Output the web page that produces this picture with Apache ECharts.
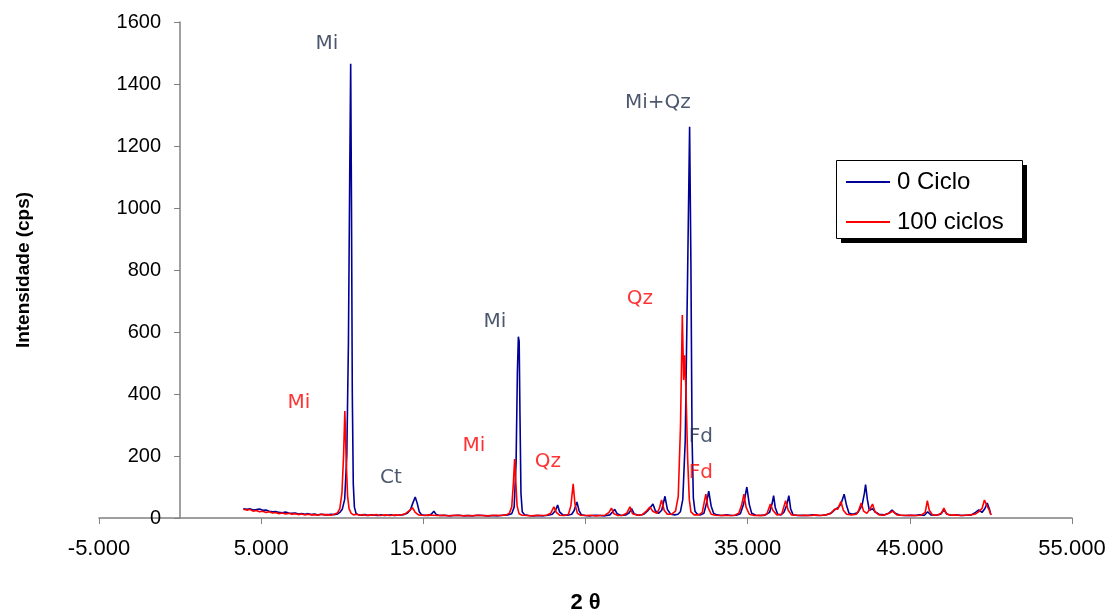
<!DOCTYPE html>
<html>
<head>
<meta charset="utf-8">
<title>Difratograma</title>
<script src="https://cdn.jsdelivr.net/npm/echarts@6/dist/echarts.min.js"></script>
<style>
  html, body { margin: 0; padding: 0; background: #ffffff; }
  #chart { width: 1113px; height: 614px; }
</style>
</head>
<body>
<div id="chart"></div>
<script>
// Difratograma de raios X: amostra inicial (0 ciclo) e após 100 ciclos
// Pares [2θ, intensidade (cps)]

const seriesNames = ['0 Ciclo', '100 ciclos'];

const ciclo0 = [
  [3.9,30],[4.0,33],[4.15,28],[4.3,30],[4.5,26],[4.7,27],[4.9,29],[5.1,25],[5.3,26],[5.5,22],
  [5.7,20],[5.9,21],[6.1,18],[6.3,17],[6.5,19],[6.7,16],[6.9,15],[7.1,16],[7.3,13],[7.5,14],
  [7.7,12],[7.9,14],[8.1,11],[8.3,13],[8.5,10],[8.7,12],[8.9,11],[9.1,10],[9.3,12],[9.5,11],
  [9.7,13],[9.85,18],[10.0,28],[10.15,60],[10.28,200],[10.38,560],[10.46,1100],[10.52,1465],
  [10.57,1000],[10.62,400],[10.68,110],[10.75,35],[10.85,15],[11.0,10],[11.2,9],[11.4,11],
  [11.6,8],[11.8,10],[12.0,9],[12.2,8],[12.4,10],[12.6,8],[12.8,9],[13.0,10],[13.2,8],[13.4,9],
  [13.6,10],[13.8,11],[14.0,15],[14.2,26],[14.35,48],[14.5,68],[14.62,48],[14.75,20],[14.9,10],
  [15.1,9],[15.3,8],[15.5,13],[15.65,22],[15.8,11],[16.0,8],[16.3,9],[16.6,7],[16.9,8],[17.2,9],
  [17.5,7],[17.8,8],[18.1,7],[18.4,9],[18.7,8],[19.0,7],[19.3,8],[19.6,7],[19.9,9],[20.2,10],
  [20.45,14],[20.6,35],[20.72,180],[20.8,470],[20.86,585],[20.91,570],[20.96,330],[21.02,80],
  [21.1,20],[21.25,10],[21.5,8],[21.8,7],[22.1,8],[22.4,7],[22.7,9],[22.95,12],[23.15,24],
  [23.28,42],[23.4,20],[23.6,10],[23.9,9],[24.15,12],[24.3,24],[24.47,52],[24.6,24],[24.75,10],
  [25.0,8],[25.3,7],[25.6,9],[25.9,8],[26.2,7],[26.5,10],[26.65,18],[26.8,28],[26.95,14],
  [27.2,8],[27.5,10],[27.7,17],[27.84,30],[28.0,13],[28.3,9],[28.6,12],[28.85,24],[29.0,34],
  [29.16,45],[29.3,24],[29.5,15],[29.7,25],[29.9,70],[30.05,28],[30.25,12],[30.5,10],[30.7,12],
  [30.85,20],[31.0,60],[31.15,250],[31.3,800],[31.42,1262],[31.5,820],[31.57,260],[31.65,65],
  [31.75,22],[31.9,12],[32.1,10],[32.3,15],[32.45,45],[32.6,87],[32.75,38],[32.9,15],[33.1,10],
  [33.4,8],[33.7,10],[34.0,8],[34.3,9],[34.55,14],[34.75,45],[34.95,100],[35.1,44],[35.25,15],
  [35.5,9],[35.8,8],[36.1,10],[36.35,18],[36.5,45],[36.6,72],[36.7,34],[36.85,12],[37.05,10],
  [37.25,20],[37.4,40],[37.54,72],[37.65,30],[37.8,10],[38.1,8],[38.4,9],[38.7,8],[39.0,10],
  [39.3,8],[39.6,9],[39.9,11],[40.15,16],[40.4,28],[40.6,35],[40.75,45],[40.95,77],[41.1,40],
  [41.25,15],[41.5,12],[41.8,18],[42.05,40],[42.2,80],[42.27,108],[42.38,60],[42.5,25],
  [42.7,30],[42.85,20],[43.1,12],[43.4,10],[43.7,15],[43.9,26],[44.1,15],[44.4,9],[44.7,8],
  [45.0,9],[45.3,8],[45.6,10],[45.9,9],[46.1,20],[46.3,10],[46.6,9],[46.9,12],[47.1,26],
  [47.3,12],[47.6,9],[47.9,10],[48.2,8],[48.5,9],[48.8,10],[49.05,18],[49.25,26],[49.45,18],
  [49.62,30],[49.77,48],[49.9,30],[50.0,10]
];

const ciclo100 = [
  [3.9,28],[4.0,32],[4.15,25],[4.3,28],[4.5,22],[4.7,24],[4.9,20],[5.1,22],[5.3,18],[5.5,20],
  [5.7,16],[5.9,18],[6.1,14],[6.3,16],[6.5,13],[6.7,15],[6.9,12],[7.1,14],[7.3,11],[7.5,13],
  [7.7,10],[7.9,12],[8.1,10],[8.3,11],[8.5,9],[8.7,12],[8.9,10],[9.1,11],[9.3,9],[9.5,12],
  [9.7,16],[9.85,30],[9.98,80],[10.08,200],[10.16,345],[10.24,190],[10.33,70],[10.42,30],
  [10.55,15],[10.7,10],[10.9,12],[11.1,9],[11.3,11],[11.5,8],[11.7,10],[11.9,9],[12.1,11],
  [12.3,8],[12.5,9],[12.7,10],[12.9,8],[13.1,9],[13.3,10],[13.5,9],[13.7,11],[13.9,14],
  [14.1,22],[14.33,33],[14.5,18],[14.7,10],[14.9,9],[15.1,8],[15.3,10],[15.6,9],[15.9,8],
  [16.2,9],[16.5,7],[16.8,8],[17.1,9],[17.4,7],[17.7,8],[18.0,7],[18.3,9],[18.6,8],[18.9,7],
  [19.2,8],[19.5,9],[19.8,8],[20.1,10],[20.3,15],[20.45,35],[20.55,110],[20.63,190],[20.7,120],
  [20.78,40],[20.9,14],[21.1,9],[21.4,8],[21.7,7],[22.0,9],[22.3,8],[22.6,9],[22.85,15],
  [23.05,36],[23.2,18],[23.4,9],[23.7,8],[23.95,12],[24.1,40],[24.24,110],[24.35,45],[24.5,15],
  [24.7,9],[25.0,8],[25.3,9],[25.6,7],[25.9,8],[26.2,9],[26.45,18],[26.6,32],[26.75,14],
  [27.0,8],[27.3,9],[27.55,16],[27.74,36],[27.9,14],[28.2,9],[28.5,11],[28.75,22],[28.97,35],
  [29.15,22],[29.4,15],[29.55,30],[29.69,58],[29.85,25],[30.05,12],[30.3,12],[30.55,22],
  [30.72,70],[30.86,300],[30.97,655],[31.05,445],[31.12,525],[31.2,400],[31.3,190],[31.4,60],
  [31.5,20],[31.7,10],[32.0,10],[32.2,18],[32.42,77],[32.55,35],[32.75,12],[33.0,9],[33.3,8],
  [33.6,9],[33.9,8],[34.2,9],[34.45,15],[34.62,40],[34.77,77],[34.9,35],[35.1,12],[35.4,8],
  [35.7,9],[36.0,8],[36.2,15],[36.4,45],[36.55,25],[36.8,10],[37.1,12],[37.34,56],[37.5,25],
  [37.7,10],[38.0,9],[38.3,8],[38.6,9],[38.9,8],[39.2,10],[39.5,8],[39.8,10],[40.1,14],
  [40.4,30],[40.55,28],[40.75,53],[40.9,25],[41.1,12],[41.4,10],[41.7,12],[41.85,25],[42.0,48],
  [42.15,22],[42.35,15],[42.55,30],[42.7,45],[42.85,20],[43.1,10],[43.4,9],[43.7,15],[43.95,22],
  [44.2,10],[44.5,9],[44.8,8],[45.1,9],[45.4,8],[45.7,9],[45.95,18],[46.08,56],[46.2,25],
  [46.4,10],[46.7,9],[46.95,16],[47.1,32],[47.25,14],[47.5,9],[47.8,10],[48.1,8],[48.4,9],
  [48.7,10],[49.0,12],[49.2,18],[49.45,30],[49.6,58],[49.75,40],[49.9,25],[50.0,10]
];

// Identificação das fases: [texto, 2θ, cps]
const fases0 = [
  ['Mi', 9.06, 1529],
  ['Mi+Qz', 29.46, 1339],
  ['Mi', 19.41, 632],
  ['Ct', 13.0, 129],
  ['Fd', 32.11, 261]
];
const fases100 = [
  ['Mi', 7.33, 371],
  ['Mi', 18.12, 232],
  ['Qz', 22.68, 181],
  ['Qz', 28.35, 706],
  ['Fd', 32.11, 145]
];

const xMin = -5, xMax = 55, xStep = 10;
const yMin = 0, yMax = 1600, yStep = 200;

const corAzul = '#000096';
const corVermelho = '#ff0000';
const corRotulo0 = '#1f2d4a';

function faseSeries(list, color) {
  return {
    type: 'scatter',
    silent: true,
    symbolSize: 0,
    z: 5,
    data: list.map(f => ({ name: f[0], value: [f[1], f[2]] })),
    label: {
      show: true,
      position: 'inside',
      formatter: '{b}',
      color: color,
      fontFamily: 'DejaVu Sans',
      fontSize: 20
    }
  };
}

const chart = echarts.init(document.getElementById('chart'), null, { renderer: 'canvas' });

chart.setOption({
  animation: false,
  backgroundColor: '#ffffff',
  grid: { left: 99, right: 41, top: 22, bottom: 96, containLabel: false, outerBoundsMode: 'none' },
  // caixa da legenda com sombra sólida
  graphic: [
    { type: 'rect', left: 841, top: 165, z: 1, silent: true,
      shape: { width: 186, height: 78 }, style: { fill: '#000000' } },
    { type: 'rect', left: 836, top: 160, z: 2, silent: true,
      shape: { width: 186, height: 78 }, style: { fill: '#ffffff', stroke: '#000000', lineWidth: 1 } }
  ],
  legend: {
    data: seriesNames,
    orient: 'vertical',
    left: 836,
    top: 160,
    z: 10,
    icon: 'rect',
    itemWidth: 44,
    itemHeight: 2,
    itemGap: 16,
    padding: [10, 8, 7, 10],
    textStyle: { fontFamily: 'Liberation Sans', fontSize: 24, color: '#000000', padding: [0, 0, 0, 2] }
  },
  xAxis: {
    type: 'value',
    min: xMin,
    max: xMax,
    interval: xStep,
    name: '2 θ',
    nameLocation: 'middle',
    nameGap: 74,
    nameTextStyle: { fontFamily: 'Liberation Sans', fontSize: 22, fontWeight: 'bold', color: '#000' },
    axisLine: { onZero: false, lineStyle: { color: '#808080', width: 1.5 } },
    axisTick: { length: 6, lineStyle: { color: '#808080' } },
    axisLabel: {
      margin: 20,
      fontFamily: 'Liberation Sans',
      fontSize: 22,
      color: '#000',
      formatter: v => v.toFixed(3)
    },
    splitLine: { show: false }
  },
  yAxis: {
    type: 'value',
    min: yMin,
    max: yMax,
    interval: yStep,
    name: 'Intensidade (cps)',
    nameLocation: 'middle',
    nameGap: 66,
    nameTextStyle: { fontFamily: 'Liberation Sans', fontSize: 19, fontWeight: 'bold', color: '#000' },
    axisLine: { show: true, onZero: true, lineStyle: { color: '#808080', width: 1.5 } },
    axisTick: { show: true, length: 6, lineStyle: { color: '#808080' } },
    axisLabel: {
      margin: -62,
      fontFamily: 'Liberation Sans',
      fontSize: 20,
      color: '#000',
      formatter: v => String(v)
    },
    splitLine: { show: false }
  },
  series: [
    {
      name: seriesNames[0],
      type: 'line',
      data: ciclo0,
      symbol: 'none',
      color: corAzul,
      lineStyle: { width: 1.6, color: corAzul },
      z: 2
    },
    {
      name: seriesNames[1],
      type: 'line',
      data: ciclo100,
      symbol: 'none',
      color: corVermelho,
      lineStyle: { width: 1.6, color: corVermelho },
      z: 3
    },
    faseSeries(fases0, corRotulo0),
    faseSeries(fases100, corVermelho)
  ]
});
</script>
</body>
</html>
